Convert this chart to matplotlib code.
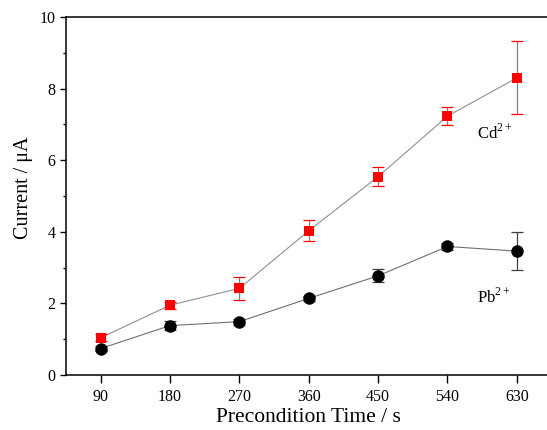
import matplotlib
matplotlib.use("Agg")
import matplotlib.pyplot as plt
from matplotlib.ticker import MultipleLocator

plt.rcParams["font.family"] = ["Liberation Serif", "DejaVu Serif"]
plt.rcParams["mathtext.fontset"] = "custom"
plt.rcParams["mathtext.rm"] = "Liberation Serif"

# data
time_s = [90, 180, 270, 360, 450, 540, 630]
cd_current = [1.04, 1.95, 2.42, 4.03, 5.54, 7.23, 8.30]
cd_err = [0.10, 0.10, 0.33, 0.30, 0.26, 0.26, 1.02]
pb_current = [0.74, 1.38, 1.49, 2.14, 2.77, 3.59, 3.46]
pb_err = [0.06, 0.12, 0.08, 0.08, 0.18, 0.10, 0.53]

fig = plt.figure(figsize=(5.47, 4.30), dpi=100)
ax = fig.add_axes([0.1207, 0.1279, 0.8875, 0.8326])

# lines + markers
ax.plot(time_s, cd_current, color="#909090", lw=0.8, zorder=2)
ax.plot(time_s, pb_current, color="#707070", lw=0.8, zorder=2)

cd = ax.errorbar(time_s, cd_current, yerr=cd_err, fmt="none", ecolor="red",
                 elinewidth=0.9, capsize=4.5, capthick=0.9, zorder=3)
cd[2][0].set_color("#808080")
pb = ax.errorbar(time_s, pb_current, yerr=pb_err, fmt="none", ecolor="#404040",
                 elinewidth=0.9, capsize=4.5, capthick=0.9, zorder=3)

ax.plot(time_s, cd_current, "s", color="red", ms=7.5, mew=0, zorder=4)
ax.plot(time_s, pb_current, "o", color="black", ms=9, mew=0, zorder=4)

ax.text(578, 6.76, "Cd$^{2+}$", fontsize=12, va="center", ha="left")
ax.text(578, 2.19, "Pb$^{2+}$", fontsize=12, va="center", ha="left")

ax.set_xlim(45, 675)
ax.set_ylim(0, 10)
ax.set_xticks(time_s)
ax.yaxis.set_major_locator(MultipleLocator(2))
ax.yaxis.set_minor_locator(MultipleLocator(1))
ax.tick_params(which="major", direction="out", width=1, labelsize=11.5)
ax.tick_params(axis="x", which="major", length=6, pad=4)
ax.tick_params(axis="y", which="major", length=4.5, pad=3)
ax.tick_params(which="minor", direction="out", length=2.3, width=1)
for s in ax.spines.values():
    s.set_linewidth(1.1)
# the reference is cropped right of the frame
ax.spines["right"].set_visible(False)

ax.set_xlabel("Precondition Time / s", fontsize=15.5)
ax.set_ylabel("Current / \u03bcA", fontsize=14.5)
ax.xaxis.set_label_coords(0.5, -0.093)
ax.yaxis.set_label_coords(-0.068, 0.522)

fig.savefig("out.png", dpi=100)
